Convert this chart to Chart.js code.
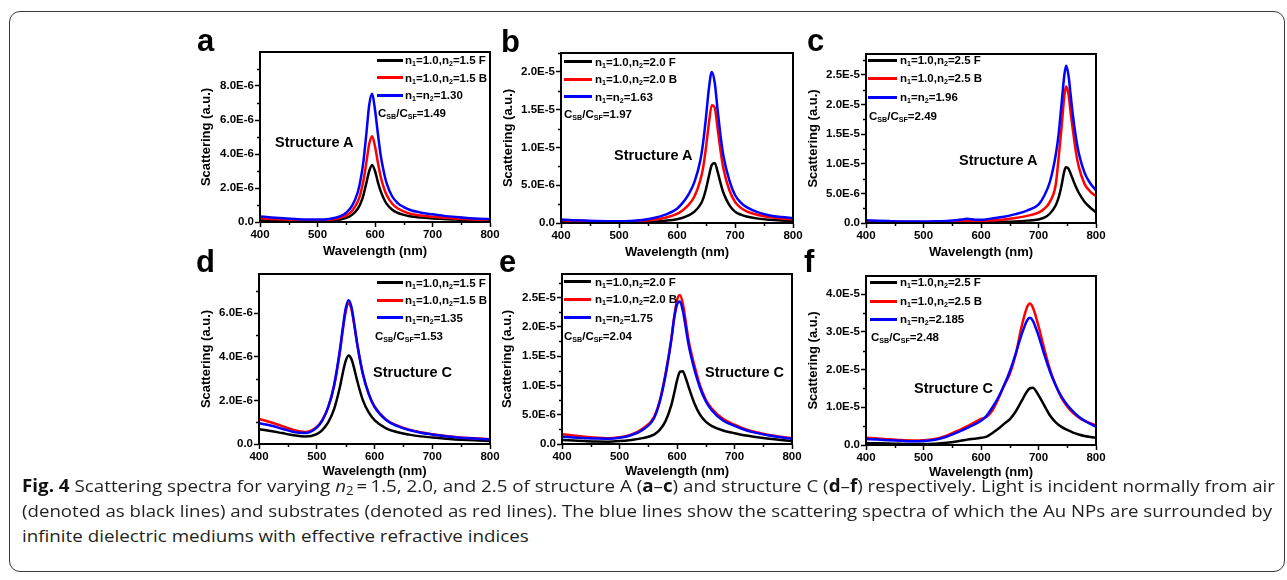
<!DOCTYPE html>
<html>
<head>
<meta charset="utf-8">
<script src="https://cdn.jsdelivr.net/npm/chart.js@4.4.1/dist/chart.umd.min.js"></script>
<style>
  html, body { margin:0; padding:0; background:#fff; }
  body { width:1287px; height:580px; overflow:hidden; position:relative; font-family:'Liberation Sans', Arial, sans-serif; }
  #frame { position:absolute; left:9px; top:11px; width:1276px; height:561px; border:1px solid #3a3a3a; border-radius:11px; box-sizing:border-box; }
  canvas { position:absolute; }
  .plet { position:absolute; font:bold 31px 'Liberation Sans', Arial, sans-serif; line-height:31px; color:#000; }
  .legtxt { position:absolute; font:bold 11.5px 'Liberation Sans', Arial, sans-serif; line-height:16px; color:#000; white-space:nowrap; }
  .legtxt sub { font-size:0.62em; vertical-align:-0.3em; line-height:0; }
  .legline { position:absolute; height:3px; }
  .struct { position:absolute; font:bold 14.5px 'Liberation Sans', Arial, sans-serif; line-height:18px; color:#000; white-space:nowrap; }
  .cap { position:absolute; left:22px; font-family:'Open Sans', sans-serif; font-size:17px; line-height:20px; color:#231f20; white-space:nowrap; transform-origin:0 50%; }
  .cap b { color:#111; }
  .cap sub { font-size:0.7em; vertical-align:-0.25em; line-height:0; }
</style>
</head>
<body>
<div id="frame"></div>

<script>
// ---------------- DATA (scattering values in units of 1e-6 a.u.) ----------------
const xTicks = [400, 500, 600, 700, 800];
const xTickLabels = ['400', '500', '600', '700', '800'];
const xMinor = [450, 550, 650, 750];

// Panel a : structure A, n2 = 1.5
const wlA = [400,420,440,460,480,500,520,540,550,560,570,575,580,585,590,595,600,605,610,615,620,630,640,650,660,680,700,720,740,760,780,800];
const aFront = [0.12,0.1,0.08,0.07,0.06,0.06,0.08,0.15,0.24,0.42,0.78,1.1,1.6,2.3,3.0,3.36,3.0,2.35,1.8,1.4,1.08,0.72,0.53,0.42,0.34,0.26,0.21,0.17,0.14,0.11,0.09,0.08];
const aBack  = [0.22,0.18,0.15,0.12,0.10,0.09,0.12,0.24,0.38,0.65,1.2,1.7,2.45,3.5,4.6,5.05,4.45,3.5,2.65,2.05,1.6,1.07,0.79,0.62,0.5,0.38,0.31,0.25,0.2,0.16,0.13,0.11];
const aEff   = [0.33,0.27,0.22,0.18,0.15,0.14,0.18,0.35,0.55,0.95,1.75,2.5,3.6,5.2,6.9,7.55,6.6,5.2,3.9,3.0,2.3,1.5,1.1,0.88,0.72,0.55,0.45,0.36,0.29,0.23,0.19,0.16];
const yTicksA = [0, 2, 4, 6, 8];
const yLabelsA = ['0.0', '2.0E-6', '4.0E-6', '6.0E-6', '8.0E-6'];
const yMinorA = [1, 3, 5, 7, 9];
const yMaxA = 10;
const legendA = ['n<sub>1</sub>=1.0,n<sub>2</sub>=1.5 F', 'n<sub>1</sub>=1.0,n<sub>2</sub>=1.5 B', 'n<sub>1</sub>=n<sub>2</sub>=1.30', 'C<sub>SB</sub>/C<sub>SF</sub>=1.49'];

// Panel b : structure A, n2 = 2.0
const wlB = [400,420,440,460,480,500,520,540,560,580,600,610,620,630,640,645,650,655,660,665,670,675,680,690,700,710,720,740,760,780,800];
const bFront = [0.15,0.13,0.11,0.09,0.08,0.08,0.09,0.12,0.18,0.3,0.5,0.7,1.0,1.5,2.4,3.2,4.5,6.2,7.7,7.95,6.8,5.3,4.0,2.4,1.5,1.1,0.85,0.58,0.43,0.33,0.26];
const bBack  = [0.35,0.3,0.25,0.21,0.18,0.17,0.2,0.28,0.42,0.7,1.2,1.7,2.4,3.5,5.6,7.3,10.0,13.2,15.6,15.3,12.5,9.6,7.2,4.4,2.8,2.0,1.55,1.05,0.78,0.6,0.5];
const bEff   = [0.45,0.38,0.32,0.27,0.24,0.22,0.27,0.4,0.65,1.1,1.9,2.7,3.8,5.4,8.2,10.6,14.0,17.8,20.0,18.6,15.0,11.6,8.9,5.7,3.7,2.7,2.1,1.4,1.0,0.78,0.64];
const yTicksB = [0, 5, 10, 15, 20];
const yLabelsB = ['0.0', '5.0E-6', '1.0E-5', '1.5E-5', '2.0E-5'];
const yMinorB = [2.5, 7.5, 12.5, 17.5, 22.5];
const yMaxB = 22.5;
const legendB = ['n<sub>1</sub>=1.0,n<sub>2</sub>=2.0 F', 'n<sub>1</sub>=1.0,n<sub>2</sub>=2.0 B', 'n<sub>1</sub>=n<sub>2</sub>=1.63', 'C<sub>SB</sub>/C<sub>SF</sub>=1.97'];

// Panel c : structure A, n2 = 2.5
const wlC = [400,420,440,460,480,500,520,540,560,570,575,580,590,600,620,640,660,680,700,710,720,730,735,740,745,748,752,756,760,765,770,780,790,800];
const cFront = [0.12,0.1,0.09,0.08,0.07,0.07,0.08,0.09,0.1,0.11,0.12,0.12,0.12,0.12,0.15,0.2,0.27,0.4,0.6,0.9,1.6,3.0,4.3,6.3,8.8,9.4,9.2,8.3,7.3,6.1,5.1,3.6,2.6,1.8];
const cBack  = [0.35,0.3,0.25,0.21,0.19,0.18,0.2,0.24,0.3,0.36,0.38,0.37,0.34,0.35,0.45,0.6,0.85,1.2,1.75,2.4,3.6,6.5,11.0,16.0,21.5,23.0,21.8,18.5,15.5,12.0,9.5,6.6,5.3,4.5];
const cEff   = [0.45,0.38,0.32,0.27,0.25,0.25,0.28,0.35,0.5,0.65,0.72,0.68,0.55,0.55,0.78,1.05,1.5,2.1,3.1,4.6,7.0,11.5,15.0,20.0,25.0,26.5,25.0,21.5,18.0,14.5,11.8,8.5,6.7,5.5];
const yTicksC = [0, 5, 10, 15, 20, 25];
const yLabelsC = ['0.0', '5.0E-6', '1.0E-5', '1.5E-5', '2.0E-5', '2.5E-5'];
const yMinorC = [2.5, 7.5, 12.5, 17.5, 22.5, 27.5];
const yMaxC = 28.5;
const legendC = ['n<sub>1</sub>=1.0,n<sub>2</sub>=2.5 F', 'n<sub>1</sub>=1.0,n<sub>2</sub>=2.5 B', 'n<sub>1</sub>=n<sub>2</sub>=1.96', 'C<sub>SB</sub>/C<sub>SF</sub>=2.49'];

// Panel d : structure C, n2 = 1.5
const wlD = [400,420,440,460,480,500,510,520,530,540,545,550,555,560,565,570,580,590,600,620,640,660,680,700,720,740,760,780,800];
const dFront = [0.68,0.6,0.5,0.4,0.34,0.45,0.65,1.0,1.6,2.6,3.25,3.8,4.06,3.9,3.45,2.9,2.0,1.45,1.1,0.72,0.54,0.43,0.35,0.3,0.25,0.21,0.18,0.16,0.14];
const dBack  = [1.15,1.0,0.82,0.64,0.55,0.78,1.12,1.7,2.65,4.2,5.2,6.05,6.45,6.2,5.45,4.6,3.2,2.3,1.72,1.12,0.84,0.66,0.54,0.45,0.38,0.32,0.28,0.25,0.22];
const dEff   = [0.95,0.85,0.7,0.55,0.5,0.75,1.1,1.7,2.7,4.3,5.3,6.2,6.6,6.3,5.5,4.6,3.2,2.3,1.7,1.1,0.82,0.64,0.52,0.44,0.37,0.31,0.27,0.24,0.21];
const yTicksD = [0, 2, 4, 6];
const yLabelsD = ['0.0', '2.0E-6', '4.0E-6', '6.0E-6'];
const yMinorD = [1, 3, 5, 7];
const yMaxD = 7.8;
const legendD = ['n<sub>1</sub>=1.0,n<sub>2</sub>=1.5 F', 'n<sub>1</sub>=1.0,n<sub>2</sub>=1.5 B', 'n<sub>1</sub>=n<sub>2</sub>=1.35', 'C<sub>SB</sub>/C<sub>SF</sub>=1.53'];

// Panel e : structure C, n2 = 2.0
const wlE = [400,420,440,460,480,500,520,540,560,570,580,590,595,600,605,610,615,620,630,640,650,660,680,700,720,740,760,780,800];
const eFront = [0.7,0.6,0.5,0.42,0.4,0.5,0.7,1.0,1.6,2.4,3.9,6.6,8.6,10.8,12.3,12.4,11.3,9.8,7.0,5.0,3.8,3.1,2.3,1.85,1.45,1.15,0.9,0.7,0.5];
const eBack  = [1.65,1.45,1.25,1.05,0.97,1.15,1.6,2.6,4.6,7.4,12.0,17.8,21.6,24.5,25.4,24.0,21.0,17.8,13.5,10.0,7.6,6.1,4.3,3.3,2.5,1.95,1.55,1.25,1.0];
const eEff   = [1.25,1.1,1.0,0.92,0.9,1.05,1.5,2.4,4.4,7.2,11.7,17.7,21.4,23.8,24.3,22.8,20.0,17.0,12.8,9.6,7.3,5.8,4.0,3.1,2.35,1.85,1.45,1.15,0.9];
const yTicksE = [0, 5, 10, 15, 20, 25];
const yLabelsE = ['0.0', '5.0E-6', '1.0E-5', '1.5E-5', '2.0E-5', '2.5E-5'];
const yMinorE = [2.5, 7.5, 12.5, 17.5, 22.5, 27.5];
const yMaxE = 29;
const legendE = ['n<sub>1</sub>=1.0,n<sub>2</sub>=2.0 F', 'n<sub>1</sub>=1.0,n<sub>2</sub>=2.0 B', 'n<sub>1</sub>=n<sub>2</sub>=1.75', 'C<sub>SB</sub>/C<sub>SF</sub>=2.04'];

// Panel f : structure C, n2 = 2.5
const wlF = [400,420,440,460,480,500,520,540,560,580,600,610,620,630,640,650,660,670,680,685,690,700,710,720,730,740,750,760,770,780,790,800];
const fFront = [0.5,0.45,0.38,0.3,0.25,0.25,0.35,0.6,1.0,1.5,1.9,2.2,3.2,4.3,5.6,6.8,8.8,11.5,14.2,15.0,15.2,13.2,10.5,7.8,6.0,4.8,4.0,3.3,2.8,2.4,2.15,1.95];
const fBack  = [1.9,1.75,1.5,1.3,1.2,1.25,1.6,2.5,3.8,5.3,6.9,7.5,9.2,12.2,15.7,18.8,23.8,31.0,36.5,37.5,36.5,31.5,25.5,20.0,15.8,12.5,10.2,8.5,7.3,6.4,5.8,5.2];
const fEff   = [1.6,1.45,1.25,1.1,1.0,1.05,1.4,2.2,3.4,4.8,6.4,7.8,10.0,12.6,15.8,19.5,24.0,29.0,33.0,33.7,33.0,29.0,24.0,19.5,15.8,12.8,10.6,8.9,7.5,6.5,5.6,4.85];
const yTicksF = [0, 10, 20, 30, 40];
const yLabelsF = ['0.0', '1.0E-5', '2.0E-5', '3.0E-5', '4.0E-5'];
const yMinorF = [5, 15, 25, 35];
const yMaxF = 44.8;
const legendF = ['n<sub>1</sub>=1.0,n<sub>2</sub>=2.5 F', 'n<sub>1</sub>=1.0,n<sub>2</sub>=2.5 B', 'n<sub>1</sub>=n<sub>2</sub>=2.185', 'C<sub>SB</sub>/C<sub>SF</sub>=2.48'];

const seriesColors = ['#000000', '#ff0000', '#0000ff'];
const FONT = "'Liberation Sans', Arial, sans-serif";

// ---------------- frame + minor ticks plugin ----------------
const originFrame = {
  id: 'originFrame',
  afterDraw(chart, args, opts) {
    const {ctx, chartArea: a, scales} = chart;
    ctx.save();
    ctx.strokeStyle = '#000';
    ctx.lineWidth = 1.5;
    ctx.beginPath();
    (opts.xMinor || []).forEach(v => {
      const px = Math.round(scales.x.getPixelForValue(v)) + 0.5;
      ctx.moveTo(px, a.bottom); ctx.lineTo(px, a.bottom + 3);
    });
    (opts.yMinor || []).forEach(v => {
      if (v > scales.y.max) return;
      const py = Math.round(scales.y.getPixelForValue(v)) + 0.5;
      ctx.moveTo(a.left, py); ctx.lineTo(a.left - 3, py);
    });
    ctx.stroke();
    ctx.lineWidth = 2;
    ctx.strokeRect(a.left, a.top, a.right - a.left, a.bottom - a.top);
    ctx.restore();
  }
};
Chart.register(originFrame);

const Y_W = 62, PAD_T = 12, PAD_R = 14, X_H = 40;

function buildPanel(p) {
  const cv = document.createElement('canvas');
  const w = p.pw + Y_W + PAD_R, h = p.ph + PAD_T + X_H;
  cv.width = w; cv.height = h;
  cv.style.left = (p.left - Y_W) + 'px';
  cv.style.top = (p.top - PAD_T) + 'px';
  cv.style.width = w + 'px'; cv.style.height = h + 'px';
  document.body.appendChild(cv);

  const mk = (vals, i) => ({
    data: p.wl.map((x, k) => ({x, y: vals[k]})),
    borderColor: seriesColors[i],
    borderWidth: 2.5,
    pointRadius: 0,
    fill: false,
    cubicInterpolationMode: 'monotone',
    order: 2 - i
  });

  new Chart(cv.getContext('2d'), {
    type: 'line',
    data: { datasets: [mk(p.front, 0), mk(p.back, 1), mk(p.eff, 2)] },
    options: {
      responsive: false, animation: false, devicePixelRatio: 1,
      layout: { padding: { top: PAD_T, right: PAD_R, bottom: 0, left: 0 } },
      plugins: { legend: { display: false }, tooltip: { enabled: false },
                 originFrame: { xMinor: xMinor, yMinor: p.yMinor } },
      scales: {
        x: {
          type: 'linear', min: 400, max: 800,
          afterBuildTicks: s => { s.ticks = xTicks.map(v => ({ value: v })); },
          afterFit: s => { s.height = X_H; },
          ticks: { autoSkip: false, maxRotation: 0, minRotation: 0, padding: 1, color: '#000',
                   font: { family: FONT, size: 11.5, weight: 'bold' },
                   callback: (v, i) => xTickLabels[i] },
          grid: { drawOnChartArea: false, drawTicks: true, tickLength: 5, tickWidth: 1.5, tickColor: '#000' },
          border: { display: true, color: '#000', width: 2 },
          title: { display: true, text: 'Wavelength (nm)', color: '#000',
                   font: { family: FONT, size: 13, weight: 'bold' },
                   padding: { top: 0, bottom: p.xTitlePad } }
        },
        y: {
          type: 'linear', min: 0, max: p.yMax,
          afterBuildTicks: s => { s.ticks = p.yTicks.map(v => ({ value: v })); },
          afterFit: s => { s.width = Y_W; },
          ticks: { autoSkip: false, padding: 1, color: '#000',
                   font: { family: FONT, size: 11.5, weight: 'bold' },
                   callback: (v, i) => p.yLabels[i] },
          grid: { drawOnChartArea: false, drawTicks: true, tickLength: 5, tickWidth: 1.5, tickColor: '#000' },
          border: { display: true, color: '#000', width: 2 },
          title: { display: true, text: 'Scattering (a.u.)', color: '#000',
                   font: { family: FONT, size: 13, weight: 'bold' },
                   padding: { top: p.yTitlePad, bottom: 0 } }
        }
      }
    }
  });

  // panel letter
  const L = document.createElement('div');
  L.className = 'plet'; L.textContent = p.letter;
  L.style.left = p.letterX + 'px'; L.style.top = (p.letterBase - 26.3) + 'px';
  document.body.appendChild(L);

  // legend rows
  p.legend.forEach((html, i) => {
    const t = document.createElement('div');
    t.className = 'legtxt'; t.innerHTML = html;
    const y = p.legRows[i];
    if (i < 3) {
      const ln = document.createElement('div');
      ln.className = 'legline';
      ln.style.left = p.legLineX + 'px';
      ln.style.width = p.legLineW + 'px';
      ln.style.top = (y - 1.5) + 'px';
      ln.style.background = seriesColors[i];
      document.body.appendChild(ln);
      t.style.left = p.legTextX + 'px';
    } else {
      t.style.left = p.ratioX + 'px';
    }
    t.style.top = (y - 8) + 'px';
    document.body.appendChild(t);
  });

  const st = document.createElement('div');
  st.className = 'struct'; st.textContent = p.structure;
  st.style.left = p.structX + 'px'; st.style.top = (p.structY - 9) + 'px';
  document.body.appendChild(st);
}

const panels = [
  { letter:'a', letterX:197, letterBase:51, left:260, top:52, pw:230, ph:170, wl:wlA, front:aFront, back:aBack, eff:aEff,
    yMax:yMaxA, yTicks:yTicksA, yLabels:yLabelsA, yMinor:yMinorA, yTitlePad:1, xTitlePad:3,
    legend:legendA, legRows:[60, 77.7, 95, 113], legLineX:377, legLineW:26, legTextX:405, ratioX:378,
    structure:'Structure A', structX:275, structY:142 },
  { letter:'b', letterX:501, letterBase:52, left:561, top:53, pw:232, ph:170, wl:wlB, front:bFront, back:bBack, eff:bEff,
    yMax:yMaxB, yTicks:yTicksB, yLabels:yLabelsB, yMinor:yMinorB, yTitlePad:1.5, xTitlePad:3,
    legend:legendB, legRows:[61.7, 79, 96.7, 114], legLineX:564, legLineW:28, legTextX:595, ratioX:564,
    structure:'Structure A', structX:614, structY:155 },
  { letter:'c', letterX:807, letterBase:51, left:866, top:54, pw:230, ph:169, wl:wlC, front:cFront, back:cBack, eff:cEff,
    yMax:yMaxC, yTicks:yTicksC, yLabels:yLabelsC, yMinor:yMinorC, yTitlePad:2, xTitlePad:3,
    legend:legendC, legRows:[60, 78, 97, 116], legLineX:868, legLineW:29, legTextX:900, ratioX:869,
    structure:'Structure A', structX:959, structY:160 },
  { letter:'d', letterX:196, letterBase:272, left:259, top:274, pw:231, ph:170, wl:wlD, front:dFront, back:dBack, eff:dEff,
    yMax:yMaxD, yTicks:yTicksD, yLabels:yLabelsD, yMinor:yMinorD, yTitlePad:1.5, xTitlePad:5,
    legend:legendD, legRows:[282.7, 300, 317.7, 335.7], legLineX:377, legLineW:26, legTextX:405, ratioX:375,
    structure:'Structure C', structX:373, structY:371.7 },
  { letter:'e', letterX:499, letterBase:272, left:562, top:274, pw:230, ph:170, wl:wlE, front:eFront, back:eBack, eff:eEff,
    yMax:yMaxE, yTicks:yTicksE, yLabels:yLabelsE, yMinor:yMinorE, yTitlePad:0, xTitlePad:5,
    legend:legendE, legRows:[281.7, 299, 317.7, 335.7], legLineX:564, legLineW:27, legTextX:595, ratioX:564,
    structure:'Structure C', structX:705, structY:371.7 },
  { letter:'f', letterX:804, letterBase:272, left:866, top:276, pw:230, ph:169, wl:wlF, front:fFront, back:fBack, eff:fEff,
    yMax:yMaxF, yTicks:yTicksF, yLabels:yLabelsF, yMinor:yMinorF, yTitlePad:1.5, xTitlePad:5,
    legend:legendF, legRows:[282.3, 301, 319, 336.7], legLineX:870, legLineW:27, legTextX:900, ratioX:871,
    structure:'Structure C', structX:914, structY:388.3 }
];
panels.forEach(buildPanel);

// ---------------- caption ----------------
const captionLines = [
  '<b>Fig. 4</b> Scattering spectra for varying <i>n</i><sub>2</sub>\u2009=\u20091.5, 2.0, and 2.5 of structure A (<b>a</b>\u2013<b>c</b>) and structure C (<b>d</b>\u2013<b>f</b>) respectively. Light is incident normally from air',
  '(denoted as black lines) and substrates (denoted as red lines). The blue lines show the scattering spectra of which the Au NPs are surrounded by',
  'infinite dielectric mediums with effective refractive indices'
];
const captionY = [486, 511, 536];
const captionW = [1253, 1250, null];
const capEls = captionLines.map((html, i) => {
  const d = document.createElement('div');
  d.className = 'cap'; d.innerHTML = html;
  d.style.top = (captionY[i] - 10) + 'px';
  document.body.appendChild(d);
  return d;
});
function fitCaption() {
  let s0 = 1;
  capEls.forEach((d, i) => {
    d.style.transform = 'none';
    const w = d.getBoundingClientRect().width;
    let s = captionW[i] ? captionW[i] / w : s0;
    if (i === 0) s0 = s;
    d.style.transform = 'scaleX(' + s + ')';
  });
}
fitCaption();
if (document.fonts && document.fonts.ready) document.fonts.ready.then(fitCaption);
</script>
</body>
</html>
